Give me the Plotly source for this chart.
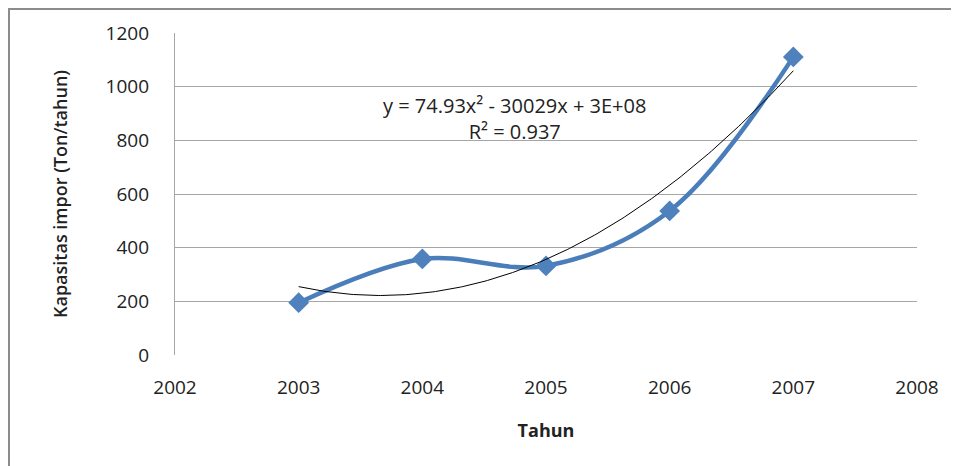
import numpy as np
import plotly.graph_objects as go

years = [2003, 2004, 2005, 2006, 2007]
kapasitas = [195, 358, 332, 537, 1111]
eq_text = "y = 74.93x² - 30029x + 3E+08"
r2_text = "R² = 0.937"
x_ticks = [2002, 2003, 2004, 2005, 2006, 2007, 2008]
y_ticks = [0, 200, 400, 600, 800, 1000, 1200]

# polynomial (order 2) trendline computed from the data
x0 = years[0]
coef = np.polyfit(np.array(years) - x0, kapasitas, 2)
xt = np.linspace(years[0], years[-1], 200)
yt = np.polyval(coef, xt - x0)

FONT = "Open Sans"
L, R, T, B = 167, 50, 25, 119
W, H = 959, 466
PW, PH = W - L - R, H - T - B

fig = go.Figure()
fig.add_trace(go.Scatter(
    x=years, y=kapasitas, mode="lines+markers",
    line=dict(color="#4A7EBB", width=4.5, shape="spline", smoothing=1.0),
    marker=dict(symbol="diamond", size=16, color="#4F81BD"),
    showlegend=False, hoverinfo="x+y"))
fig.add_trace(go.Scatter(
    x=xt, y=yt, mode="lines",
    line=dict(color="#000000", width=1),
    showlegend=False, hoverinfo="skip"))

fig.add_annotation(x=0.458, y=0.824, xref="paper", yref="paper",
                   text=eq_text + "<br>" + r2_text, showarrow=False,
                   align="center", font=dict(family=FONT, size=20, color="#222"))

fig.add_shape(type="rect", xref="paper", yref="paper",
              x0=(1 - L) / PW, x1=(W + 20 - L) / PW,
              y0=(PH + 30 - H) / PH, y1=(PH + T - 1) / PH,
              line=dict(color="#8C8C8C", width=2), fillcolor="rgba(0,0,0,0)",
              layer="below")

fig.update_layout(
    width=W, height=H,
    margin=dict(l=L, r=R, t=T, b=B),
    paper_bgcolor="white", plot_bgcolor="white",
    font=dict(family=FONT, size=19, color="#222"),
    xaxis=dict(range=[2002, 2008], tickvals=x_ticks, showgrid=False,
               zeroline=False, showline=False, ticks="",
               ticklabelstandoff=19,
               title=dict(text="Tahun", font=dict(family=FONT, size=18, weight="bold"),
                          standoff=25)),
    yaxis=dict(range=[0, 1200], tickvals=y_ticks, showgrid=True,
               gridcolor="#A6A6A6", gridwidth=1.3, zeroline=False,
               showline=True, linecolor="#A6A6A6", linewidth=1.3, ticks="",
               ticklabelstandoff=21,
               title=dict(text="Kapasitas impor (Ton/tahun)",
                          font=dict(family=FONT, size=18, weight=600),
                          standoff=33)),
)
fig.write_html("out.html")
